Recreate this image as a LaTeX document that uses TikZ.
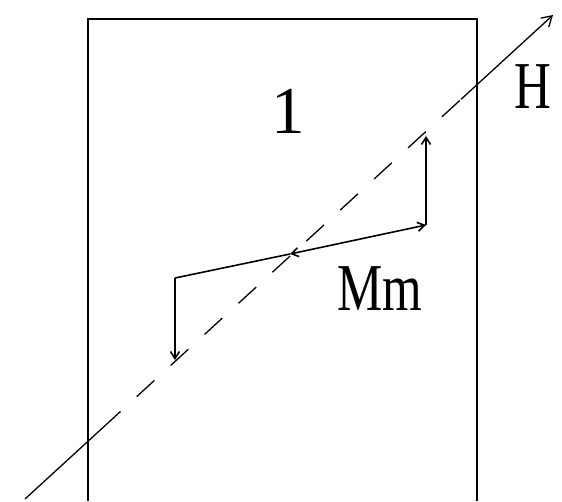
\documentclass[tikz,border=0pt]{standalone}
\usepackage{fontspec}
\setmainfont{Liberation Serif}
\usetikzlibrary{arrows.meta,calc}

\begin{document}
\begin{tikzpicture}[
   x=1pt,y=-1pt,
   >={Straight Barb[length=7pt,width=9pt]},
   frame/.style={line width=1.8pt},
   axis/.style={line width=1.3pt},
   hidden/.style={axis,dash pattern=on 24pt off 22pt,dash phase=4pt},
   vec/.style={line width=1.6pt,->},
   lbl/.style={inner sep=0pt,anchor=base,font=\fontsize{67}{70}\selectfont},
]
\useasboundingbox (0,0) rectangle (562,501);
\draw[frame] (88,501) -- (88,19) -- (477,19) -- (477,501);

% field axis H
\coordinate (hs) at (25,499);
\coordinate (he) at (553,15);
\coordinate (hin) at ($(hs)!0.153!(he)$);
\coordinate (hout) at ($(hs)!0.826!(he)$);
\draw[axis] (hs) -- (hin);
\draw[hidden] (hin) -- (hout);
\draw[axis,-{Straight Barb[length=10pt,width=12pt]}] (hout) -- (he);

% moments
\coordinate (c) at (290,254);
\coordinate (ml) at (175,278);
\coordinate (mr) at (426,225);
\coordinate (mlb) at (175,360);
\coordinate (mrt) at (426,136);
\draw[vec,-] (ml) -- (c);
\draw[vec,<->] (c) -- (mr);
\draw[vec] (ml) -- (mlb);
\draw[vec] (mr) -- (mrt);

\node[lbl] (one) at (288,133) {1};
\node[lbl] (h) at (533,108) {\scalebox{0.76}[1]{H}};
\node[lbl] (mm) at (380,310) {\scalebox{0.76}[1]{Mm}};
\end{tikzpicture}
\end{document}
